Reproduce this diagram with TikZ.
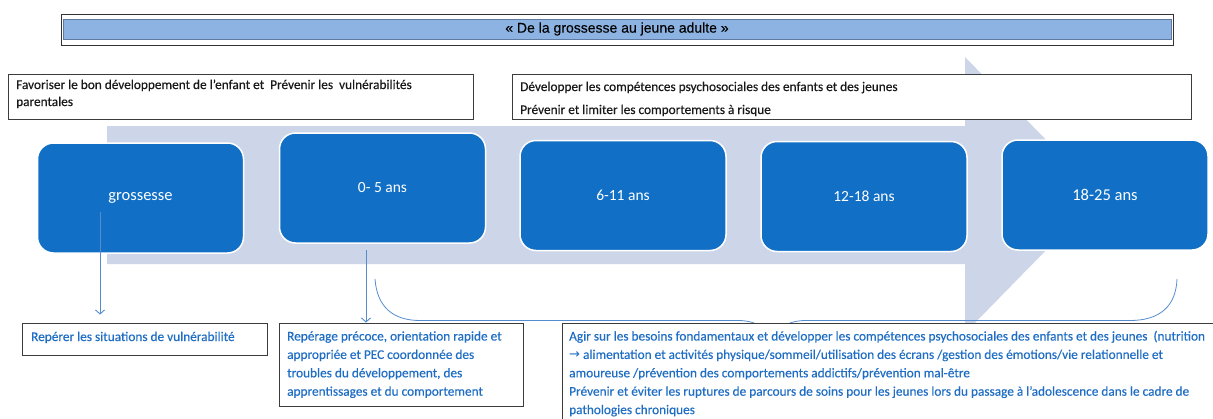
\documentclass[tikz,border=0pt]{standalone}
\usepackage{fontspec}
\setmainfont{Carlito}
\newfontfamily\heavyfont{Carlito}[FakeBold=0.35]
\newfontfamily\titlefont{Liberation Sans}[FakeBold=0.2]
\newfontfamily\symbolfont{DejaVu Sans}
\usetikzlibrary{arrows.meta}
\definecolor{boxblue}{RGB}{17,112,197}
\definecolor{arrowgray}{RGB}{205,213,233}
\definecolor{barblue}{RGB}{141,179,226}
\definecolor{barline}{RGB}{95,120,160}
\definecolor{txtblue}{RGB}{31,110,196}
\definecolor{lineblue}{RGB}{85,140,205}
\definecolor{framegray}{RGB}{60,60,60}
\begin{document}
\begin{tikzpicture}[x=1pt,y=-1pt,
  agebox/.style={draw=white, line width=1.5pt, fill=boxblue, rounded corners=16pt,
    minimum width=206pt, minimum height=110pt, text=white, inner sep=0pt,
    font=\fontsize{15.5}{18}\selectfont},
  bigage/.style={font=\fontsize{16.5}{19}\selectfont},
  framebox/.style={draw=framegray, line width=0.9pt, fill=white, inner sep=0pt},
  blacktxt/.style={anchor=base west, inner sep=0pt, text=black!90, font=\heavyfont\fontsize{13.3}{16}\selectfont},
  bluetxt/.style={anchor=base west, inner sep=0pt, text=txtblue, font=\heavyfont\fontsize{13.3}{16}\selectfont},
  conn/.style={draw=lineblue, line width=0.9pt, -{Straight Barb[length=4pt,width=9pt]}},
  bracestyle/.style={draw=lineblue, line width=0.8pt},
]
\useasboundingbox (0,0) rectangle (1213,418);
\clip (0,0) rectangle (1213,418);
\fill[white] (0,0) rectangle (1213,418);

% title
\node[draw=black!80, line width=0.8pt, minimum width=1112pt, minimum height=31pt, inner sep=0pt] (tframe) at (617,29.5) {};
\node[fill=barblue, draw=barline, line width=0.6pt, minimum width=1108pt, minimum height=20pt, inner sep=0pt] (tbar) at (617,29) {};
\node[font=\titlefont\fontsize{14}{16}\selectfont, inner sep=0pt] (title) at (tbar.center) {« De la grossesse au jeune adulte »};

% big arrow
\fill[arrowgray] (107,126) -- (965,126) -- (965,57) -- (1100,195) -- (965,333) -- (965,264) -- (107,264) -- cycle;

% top boxes
\node[framebox, minimum width=465pt, minimum height=45pt] (favbox) at (240.5,96.5) {};
\node[framebox, minimum width=679pt, minimum height=45pt] (devbox) at (851.5,96.5) {};
\node[blacktxt] (fav1) at (16,89) {Favoriser le bon développement de l’enfant et\ \ Prévenir les\ \ vulnérabilités};
\node[blacktxt] (fav2) at (16,106) {parentales};
\node[blacktxt] (dev1) at (520,91) {Développer les compétences psychosociales des enfants et des jeunes};
\node[blacktxt] (dev2) at (520,114) {Prévenir et limiter les comportements à risque};

% age boxes
\node[agebox, bigage] (gros) at (140.5,198) {grossesse};
\node[agebox] (a05) at (382.5,188) {0- 5 ans};
\node[agebox] (a611) at (623,195.5) {6-11 ans};
\node[agebox] (a1218) at (864,196.5) {12-18 ans};
\node[agebox, bigage] (a1825) at (1105,195) {18-25 ans};

% bottom boxes
\node[framebox, minimum width=245pt, minimum height=32pt] (rep) at (144.5,339) {};
\node[framebox, minimum width=244pt, minimum height=83pt] (repg) at (401,364.5) {};

% brace
\coordinate (brL) at (375,279);
\coordinate (brM) at (772,345);
\coordinate (brR) at (1177,279);
\draw[bracestyle] (brL) .. controls (377,306) and (392,320.5) .. (420,320.5) -- (738,320.5)
  .. controls (758,320.5) and (770,330) .. (brM)
  .. controls (774,330) and (786,320.5) .. (806,320.5) -- (1130,320.5)
  .. controls (1160,320.5) and (1176,306) .. (brR);

\node[framebox, minimum width=680pt, minimum height=120pt, anchor=north west] (agir) at (562,323) {};

% texts in bottom boxes
\node[bluetxt] (rep1) at (31,341) {Repérer les situations de vulnérabilité};
\foreach \t [count=\i] in {{Repérage précoce, orientation rapide et},{appropriée et PEC coordonnée des},{troubles du développement, des},{apprentissages et du comportement}}
  \node[bluetxt] (repg\i) at (287,{340.5+18.4*(\i-1)}) {\t};
\foreach \t [count=\i] in {{Agir sur les besoins fondamentaux et développer les compétences psychosociales des enfants et des jeunes\ \ (nutrition},{{\symbolfont\fontsize{13}{15}\selectfont →} alimentation et activités physique/sommeil/utilisation des écrans /gestion des émotions/vie relationnelle et},{amoureuse /prévention des comportements addictifs/prévention mal-être},{Prévenir et éviter les ruptures de parcours de soins pour les jeunes lors du passage à l’adolescence dans le cadre de},{pathologies chroniques}}
  \node[bluetxt] (agir\i) at (569,{340.5+18.4*(\i-1)}) {\t};

% connectors
\coordinate (gstart) at (100,212);
\draw[conn, shorten >=8pt] (gstart) -- (gstart |- rep.north);
\coordinate (astart) at (366,250);
\draw[conn] (astart) -- (astart |- repg.north);
\end{tikzpicture}
\end{document}
